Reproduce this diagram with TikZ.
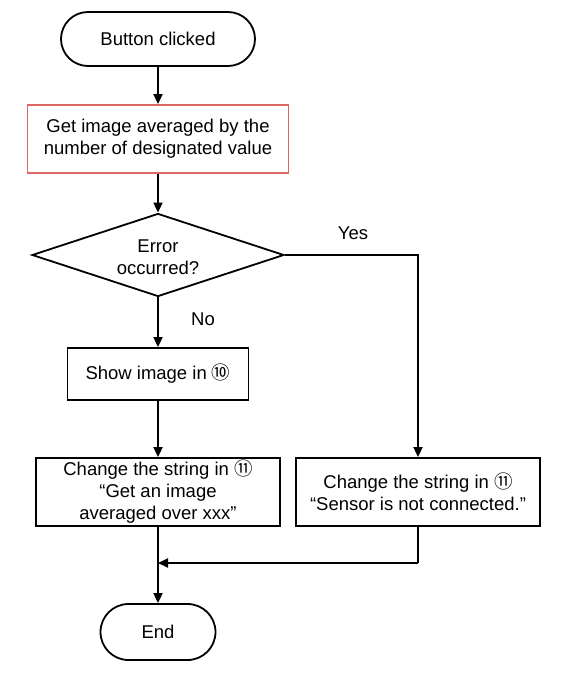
\documentclass[tikz,border=0pt]{standalone}
\usepackage{fontspec}
\setmainfont{Liberation Sans}
\newfontfamily\symfont{Noto Sans CJK JP}
\usetikzlibrary{shapes.geometric,shapes.misc,arrows.meta}
\definecolor{redline}{HTML}{E06666}
\tikzset{
  base/.style={draw=black,line width=1.8pt,align=center,inner sep=0pt,font=\fontsize{18.5}{22}\selectfont},
  term/.style={base,rounded rectangle},
  proc/.style={base,rectangle},
  conn/.style={line width=1.8pt,-{Triangle[length=10pt,width=9pt]}},
  plainline/.style={line width=1.8pt},
  lbl/.style={font=\fontsize{18.5}{22}\selectfont}
}
\newcommand{\cten}{{\symfont\fontsize{18.5}{22}\selectfont ⑩}}
\newcommand{\celeven}{{\symfont\fontsize{18.5}{22}\selectfont ⑪}}
\begin{document}
\begin{tikzpicture}[x=1pt,y=-1pt]
\useasboundingbox (0,0) rectangle (563,674);
\node[term,minimum width=194pt,minimum height=54pt] (start) at (158,39) {Button clicked};
\node[proc,draw=redline,minimum width=261pt,minimum height=68pt] (get) at (158,139) {Get image averaged by the\\number of designated value};
\node[base,shape=diamond,aspect=3.04,minimum width=252pt,minimum height=83pt] (err) at (158,255) {};
\node[lbl,align=center] (errtxt) at (158,257) {Error\\occurred?};
\node[proc,minimum width=181pt,minimum height=52pt] (showimg) at (158,374) {Show image in \cten};
\node[proc,minimum width=244pt,minimum height=68pt] (chl) at (158,492) {Change the string in \celeven\\“Get an image\\averaged over xxx”};
\node[proc,minimum width=244pt,minimum height=68pt] (chr) at (418,492) {Change the string in \celeven\\“Sensor is not connected.”};
\node[term,minimum width=115pt,minimum height=56pt] (end) at (158,632) {End};
\coordinate (ry) at (418,255);
\coordinate (jn) at (418,563);
\coordinate (jl) at (158,563);
\node[lbl] (yes) at (353,233) {Yes};
\node[lbl] (no) at (203,319) {No};
\draw[conn] (start) -- (get);
\draw[conn] (get) -- (err);
\draw[conn] (err) -- (showimg);
\draw[conn] (showimg) -- (chl);
\draw[conn] (err.east) -- (ry) -- (chr);
\draw[conn] (chl) -- (end);
\draw[plainline] (chr) -- (jn);
\draw[conn] (jn) -- (jl);
\end{tikzpicture}
\end{document}
